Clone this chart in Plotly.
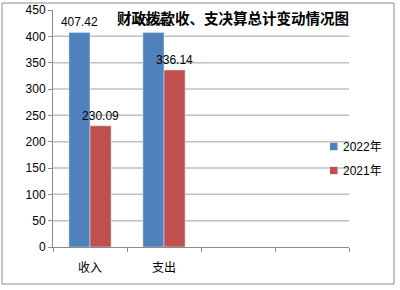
import plotly.graph_objects as go

categories = ["收入", "支出", " ", "  "]
series_names = ["2022年", "2021年"]
series_2022 = [407.42, 407.42, None, None]
series_2021 = [230.09, 336.14, None, None]
labels_2022 = ["407.42", "407.42", "", ""]
labels_2021 = ["230.09", "336.14", "", ""]
y_ticks = [0, 50, 100, 150, 200, 250, 300, 350, 400, 450]
title_text = "财政拨款收、支决算总计变动情况图"

BLUE = "#4F81BD"
RED = "#C0504D"
colors = [BLUE, RED]
LAT = "Liberation Sans, Arial, sans-serif"
CJK = "Noto Sans CJK SC, sans-serif"

fig = go.Figure()
for vals, labs, name, col in [(series_2022, labels_2022, series_names[0], BLUE),
                              (series_2021, labels_2021, series_names[1], RED)]:
    fig.add_trace(go.Bar(x=categories, y=vals, name=name, marker_color=col,
                         text=labs, textposition="outside", cliponaxis=False,
                         constraintext="none",
                         textfont=dict(family=LAT, size=12, color="black"), showlegend=False))

# plot area pixel geometry helpers for legend placement
L, R, T, B = 53, 349, 10, 247
px = lambda x: (x - L) / (R - L)
py = lambda y: (B - y) / (B - T)

shapes = []
for v in y_ticks[1:-1]:
    shapes.append(dict(type="line", xref="paper", x0=0, x1=1, yref="y", y0=v, y1=v,
                       line=dict(color="#c0c0c0", width=1.5), layer="below"))
shapes.append(dict(type="rect", xref="paper", yref="paper", x0=px(2), x1=px(394),
                   y0=py(284), y1=py(3), line=dict(color="#8c8c8c", width=1)))

annotations = [dict(text="<b>" + title_text + "</b>", xref="paper", yref="paper",
                    x=px(232.5), y=py(17.5), xanchor="center", yanchor="middle", showarrow=False,
                    font=dict(family=CJK, size=14.5, color="black"))]
for i, (name, col) in enumerate(zip(series_names, colors)):
    cy = 146.5 + 24 * i
    shapes.append(dict(type="rect", xref="paper", yref="paper", x0=px(330), x1=px(337.5),
                       y0=py(cy + 3.7), y1=py(cy - 3.7), fillcolor=col,
                       line=dict(color=col, width=0)))
    annotations.append(dict(text=name, xref="paper", yref="paper", x=px(341), y=py(cy),
                            xanchor="left", yanchor="middle", showarrow=False,
                            font=dict(family=LAT + ", " + CJK, size=12, color="black")))

fig.update_layout(
    width=400, height=290,
    margin=dict(l=L, r=400 - R, t=T, b=290 - B, autoexpand=False),
    paper_bgcolor="white", plot_bgcolor="white",
    barmode="group", bargap=0.43, bargroupgap=0,
    font=dict(family=LAT, size=12, color="black"),
    shapes=shapes, annotations=annotations, showlegend=False,
)
fig.update_xaxes(showline=True, linecolor="#8c8c8c", linewidth=1,
                 ticks="outside", tickson="boundaries", ticklen=4, tickcolor="#8c8c8c",
                 ticklabelstandoff=10,
                 tickfont=dict(family=CJK, size=12), showgrid=False, zeroline=False,
                 categoryorder="array", categoryarray=categories)
fig.update_yaxes(range=[0, 450], tickvals=y_ticks, showline=True, linecolor="#8c8c8c",
                 linewidth=1, ticks="outside", ticklen=4, tickcolor="#8c8c8c",
                 showgrid=False, zeroline=False, tickfont=dict(family=LAT, size=12))

fig.write_html("out.html")
